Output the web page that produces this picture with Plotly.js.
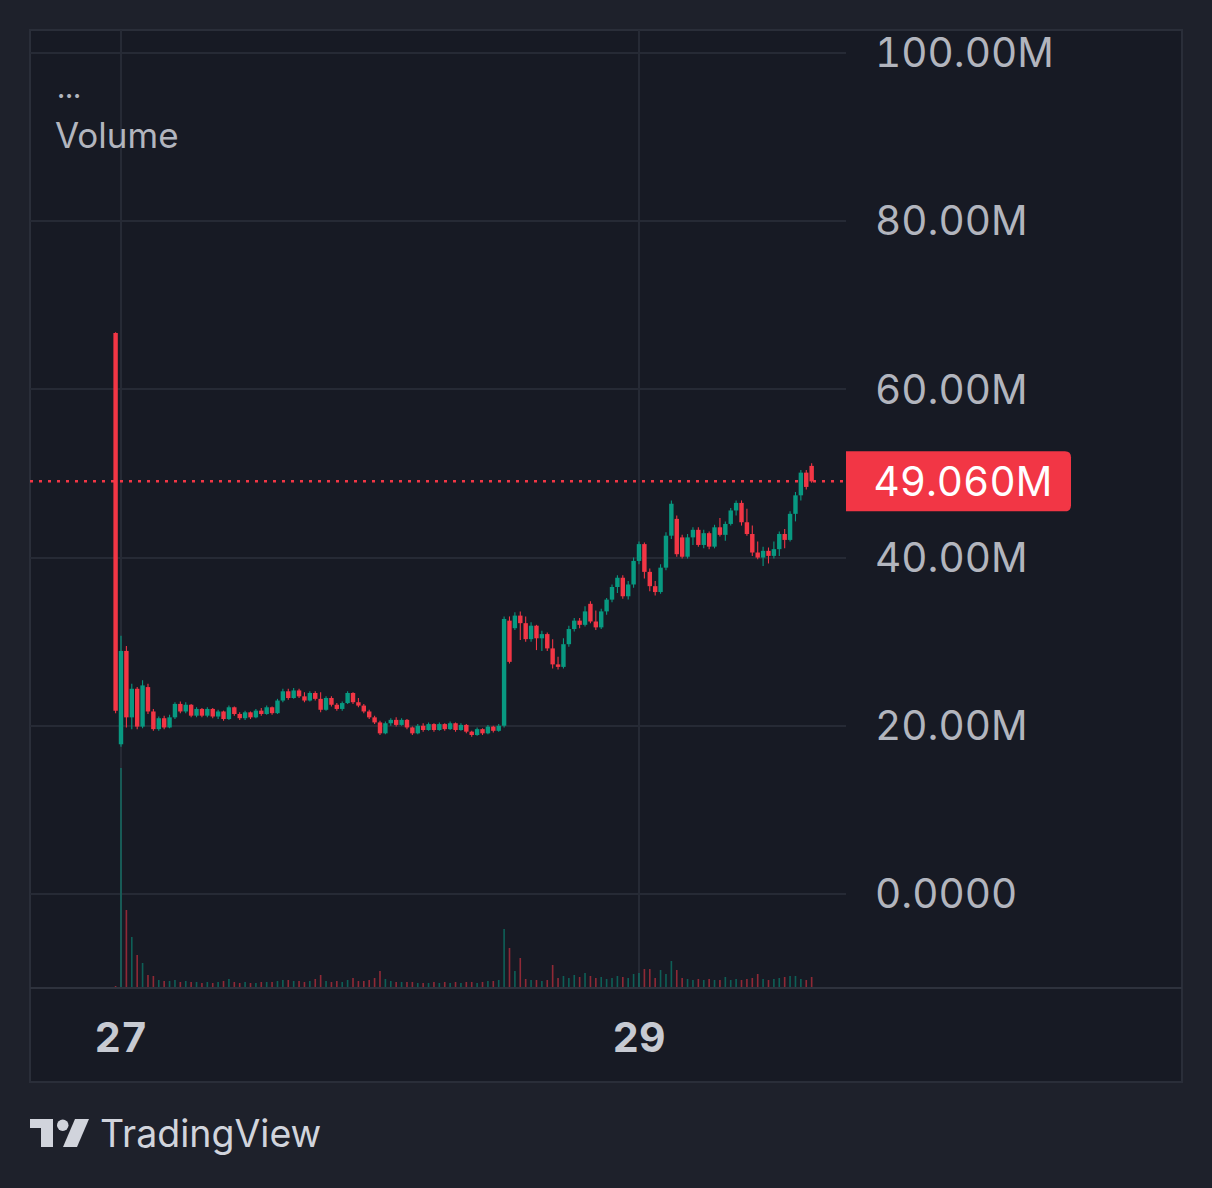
<!DOCTYPE html>
<html><head><meta charset="utf-8">
<script src="https://cdn.plot.ly/plotly-3.0.1.min.js"></script>
<style>html,body{margin:0;padding:0;background:#1e212b;}#chart{width:1212px;height:1188px;}
#chart text{font-feature-settings:"tnum" 1;}</style>
</head><body><div id="chart"></div>
<script>
// ---- data (prices in millions, 30-minute candles) ----
const startTime = '2025-01-26T23:30:00';
const stepMinutes = 30;
const open = [66.7,17.8,28.9,21.0,24.4,19.9,24.6,21.7,19.6,20.9,
19.8,21.0,22.6,21.7,22.5,21.2,22.0,21.2,22.0,21.1,
21.7,20.8,22.2,21.4,20.9,21.6,21.0,21.8,21.4,22.2,
21.5,23.0,24.1,23.3,24.2,23.5,23.0,23.9,23.2,21.9,
23.3,22.5,22.0,22.7,23.9,22.8,22.4,21.7,21.0,20.4,
19.1,20.3,20.7,20.1,20.7,19.8,19.1,20.0,19.5,20.2,
19.5,20.2,19.6,20.3,19.5,20.1,19.3,18.9,19.6,19.1,
19.9,19.4,20.0,32.5,31.6,33.1,32.2,30.3,31.9,30.4,
30.9,29.2,27.3,27.0,29.7,31.5,32.5,32.0,34.5,32.4,
31.7,33.6,35.0,36.5,37.6,35.4,36.8,39.6,41.6,38.3,
36.6,35.9,38.8,42.6,44.6,42.4,40.1,42.4,43.3,41.5,
42.9,41.3,43.6,42.7,44.0,45.6,46.5,44.2,42.8,40.6,
40.0,40.8,40.2,41.0,42.8,42.1,45.2,47.4,50.1,50.9];
const high = [66.8,30.7,29.5,25.0,24.6,25.4,25.0,22.0,21.1,21.2,
21.3,22.8,22.9,22.8,22.6,22.2,22.1,22.2,22.1,21.9,
21.8,22.4,22.3,21.6,21.8,21.7,22.0,22.1,22.4,22.3,
23.2,24.4,24.4,24.5,24.4,24.0,24.1,24.1,24.0,23.5,
23.5,22.7,22.9,24.1,24.0,23.3,22.6,21.9,21.2,20.6,
20.5,20.9,21.0,20.9,20.8,19.9,20.2,20.3,20.4,20.3,
20.4,20.3,20.5,20.4,20.3,20.2,19.4,19.8,19.7,20.1,
20.0,20.2,33.0,33.0,33.5,33.6,33.0,32.3,32.0,31.3,
31.1,30.3,28.2,30.4,31.9,32.8,32.8,34.2,34.8,33.7,
33.9,35.2,36.8,37.9,37.9,37.2,40.0,41.9,41.8,38.7,
37.2,39.2,43.0,46.8,45.0,42.7,42.8,43.6,43.6,43.3,
43.1,43.9,44.7,44.3,45.9,46.8,46.8,45.8,43.8,41.9,
41.3,41.2,41.9,43.1,43.4,45.5,47.8,50.4,50.4,51.2];
const low = [21.5,17.5,19.8,19.6,19.6,19.7,21.4,19.4,19.4,19.6,
19.7,20.8,21.5,21.5,21.0,21.0,21.0,21.0,20.9,20.8,
20.6,20.7,21.2,20.7,20.7,20.8,20.9,21.2,21.3,21.3,
21.4,22.8,23.1,23.2,23.3,22.8,22.9,23.0,21.6,21.8,
22.3,21.8,21.8,22.6,22.6,22.2,21.5,20.8,20.2,18.9,
19.0,20.0,19.9,20.0,19.6,18.9,19.0,19.3,19.4,19.3,
19.4,19.4,19.5,19.3,19.4,19.1,18.7,18.8,18.9,19.0,
19.2,19.3,19.8,27.4,31.4,30.2,30.0,30.0,29.0,28.9,
28.9,26.8,26.7,26.8,29.4,31.2,31.6,31.8,32.2,31.4,
31.5,33.2,34.7,35.8,35.1,35.0,36.4,39.2,37.5,36.0,
35.5,35.7,38.5,42.2,40.1,39.9,39.9,41.5,41.3,41.1,
41.0,41.1,42.5,42.0,43.8,45.0,43.8,42.6,40.2,39.8,
39.0,39.3,39.9,40.2,41.1,41.9,44.3,46.8,48.1,48.9];
const close = [21.8,28.9,21.0,24.4,19.9,24.8,21.7,19.6,20.9,19.8,
21.0,22.6,21.7,22.5,21.2,22.0,21.2,22.0,21.1,21.7,
20.8,22.2,21.4,20.9,21.6,21.0,21.8,21.4,22.2,21.5,
23.0,24.1,23.3,24.2,23.5,23.0,23.9,23.2,21.9,23.3,
22.5,22.0,22.7,23.9,22.8,22.4,21.7,21.0,20.4,19.1,
20.3,20.7,20.1,20.7,19.8,19.1,20.0,19.5,20.2,19.5,
20.2,19.6,20.3,19.5,20.1,19.3,18.9,19.6,19.1,19.9,
19.4,20.0,32.7,27.6,33.1,32.2,30.3,31.9,30.4,30.9,
29.2,27.3,27.0,29.7,31.5,32.5,32.0,33.6,32.4,31.7,
33.6,35.0,36.5,37.6,35.4,36.8,39.6,41.6,38.3,36.6,
35.9,38.8,42.6,46.4,40.4,40.1,42.4,43.3,41.5,42.9,
41.3,43.6,42.7,44.0,45.6,46.5,44.2,42.8,40.6,40.0,
40.8,40.2,41.0,42.8,42.1,45.2,47.4,50.1,48.4,49.06];
const volume = [2,220,78,51,33,25,13,12,8,7,
7,8,6,7,6,6,5,6,5,6,
7,9,6,5,6,5,5,6,6,6,
7,8,8,7,7,6,7,9,13,7,
6,7,6,8,10,7,7,8,10,17,
9,7,6,6,6,6,5,5,5,6,
5,6,5,6,5,6,6,5,6,7,
7,8,59,40,17,30,9,8,8,7,
8,23,10,12,10,13,11,15,12,10,
11,9,10,12,11,10,14,15,19,19,
10,18,14,27,18,10,9,8,9,8,
9,8,8,11,8,9,8,9,10,14,
9,8,9,10,11,12,12,9,8,11];
const yTickVals = [0,20,40,60,80,100];
const yTickText = ['0.0000','20.00M','40.00M','60.00M','80.00M','100.00M'];
const xTickVals = ['2025-01-27 00:00','2025-01-29 00:00'];
const xTickText = ['27','29'];
const legendDots = '...';
const legendTitle = 'Volume';
const brandText = 'TradingView';

// ---- geometry helpers ----
const W=1212,H=1188,L=30,R=846,T=30,B=988;
const px2x = p => (p-L)/(R-L);
const py2y = p => (B-p)/(B-T);

const UP='#089981', DOWN='#F23645';
const stepMs = stepMinutes*60000;
const times = open.map((_,i)=>{const d=new Date(Date.parse(startTime+'Z')+i*stepMs);return d.toISOString().slice(0,19).replace('T',' ');});
const isUp = open.map((o,i)=> close[i]>=o);
const candleColors = isUp.map(u=> u?UP:DOWN);
const volColors = isUp.map(u=> u?'rgba(8,153,129,0.55)':'rgba(242,54,69,0.55)');
const lastClose = close[close.length-1];
const lastLabel = lastClose.toFixed(3)+'M';

const volTrace = {type:'bar', x:times, y:volume, yaxis:'y2', marker:{color:volColors, line:{width:0}}, width:stepMs*0.3, hoverinfo:'skip'};
const wickTrace = {type:'bar', x:times, base:low, y:high.map((h,i)=>h-low[i]), marker:{color:candleColors, line:{width:0}}, width:stepMs*0.2, hoverinfo:'skip'};
const bodyTrace = {type:'bar', x:times, base:open.map((o,i)=>Math.min(o,close[i])), y:open.map((o,i)=>Math.max(Math.abs(close[i]-o),0.15)),
  marker:{color:candleColors, line:{width:0}}, width:stepMs*0.82, hoverinfo:'skip'};

const yPerPx = (102.73+11.18)/(B-T);
const halfH = 30*yPerPx, rY = 6*yPerPx, rX = 6/(R-L);
const lx0 = px2x(846), lx1 = px2x(1071);
const labelPath = `M ${lx0},${lastClose-halfH} L ${lx1-rX},${lastClose-halfH} Q ${lx1},${lastClose-halfH} ${lx1},${lastClose-halfH+rY} L ${lx1},${lastClose+halfH-rY} Q ${lx1},${lastClose+halfH} ${lx1-rX},${lastClose+halfH} L ${lx0},${lastClose+halfH} Z`;

function pathPx(pts){return 'M '+pts.map(p=>px2x(p[0])+','+py2y(p[1])).join(' L ')+' Z';}
const logoT = pathPx([[30,1119],[53,1119],[53,1147],[41,1147],[41,1128],[30,1128]]);
const logoSlash = pathPx([[75,1119],[89,1119],[77,1147],[63,1147]]);

const shapes = [
  {type:'rect', xref:'paper', yref:'paper', x0:px2x(30), x1:px2x(1182), y0:py2y(1082), y1:py2y(30), fillcolor:'#171a24', line:{color:'#2a2e39', width:2}, layer:'below'},
  {type:'line', xref:'paper', yref:'paper', x0:px2x(30), x1:px2x(1182), y0:0, y1:0, line:{color:'#2e323d', width:2}},
  {type:'line', xref:'paper', yref:'y', x0:0, x1:1, y0:lastClose, y1:lastClose, line:{color:DOWN, width:2.5, dash:'3px,6px'}},
  {type:'path', xref:'paper', yref:'y', path:labelPath, fillcolor:DOWN, line:{width:0}},
  {type:'path', xref:'paper', yref:'paper', path:logoT, fillcolor:'#d1d4dc', line:{width:0}},
  {type:'path', xref:'paper', yref:'paper', path:logoSlash, fillcolor:'#d1d4dc', line:{width:0}},
  {type:'circle', xref:'paper', yref:'paper', x0:px2x(57), x1:px2x(68.5), y0:py2y(1131), y1:py2y(1119.5), fillcolor:'#d1d4dc', line:{width:0}}
];

const annotations = [
  {xref:'paper', yref:'y', x:px2x(874), y:lastClose, xanchor:'left', yanchor:'middle', text:lastLabel, showarrow:false, font:{family:'Inter', size:40.5, color:'#ffffff'}},
  {xref:'paper', yref:'paper', x:px2x(54), y:py2y(87), xanchor:'left', yanchor:'middle', text:legendDots, showarrow:false, font:{family:'Inter', size:30, color:'#b2b5be'}},
  {xref:'paper', yref:'paper', x:px2x(53), y:py2y(135), xanchor:'left', yanchor:'middle', text:legendTitle, showarrow:false, font:{family:'Inter', size:35, color:'#b2b5be'}},
  {xref:'paper', yref:'paper', x:px2x(98), y:py2y(1133), xanchor:'left', yanchor:'middle', text:brandText, showarrow:false, font:{family:'Inter', size:37.5, color:'#d1d4dc'}}
];

const layout = {
  width:W, height:H, margin:{l:L, r:W-R, t:T, b:H-B, pad:0},
  paper_bgcolor:'#1e212b', plot_bgcolor:'rgba(0,0,0,0)',
  showlegend:false, dragmode:false, barmode:'overlay',
  xaxis:{type:'date', range:['2025-01-26 15:34:04','2025-01-29 19:10:57'], tickmode:'array', tickvals:xTickVals, ticktext:xTickText,
    showgrid:true, gridcolor:'#262a35', gridwidth:2, zeroline:false, showline:false, ticks:'',
    tickfont:{family:'Inter', size:41, color:'#c7cad2', weight:700}, ticklabelstandoff:22, fixedrange:true},
  yaxis:{side:'right', range:[-11.18,102.73], tickmode:'array', tickvals:yTickVals, ticktext:yTickText,
    showgrid:true, gridcolor:'#262a35', gridwidth:2, zeroline:false, showline:false, ticks:'',
    tickfont:{family:'Inter', size:40.5, color:'#b2b5be'}, ticklabelstandoff:28, fixedrange:true},
  yaxis2:{overlaying:'y', range:[0, Math.max(...volume)*4.355], visible:false, fixedrange:true},
  shapes:shapes, annotations:annotations
};

Plotly.newPlot('chart', [volTrace, wickTrace, bodyTrace], layout, {displayModeBar:false, staticPlot:true});
</script></body></html>
